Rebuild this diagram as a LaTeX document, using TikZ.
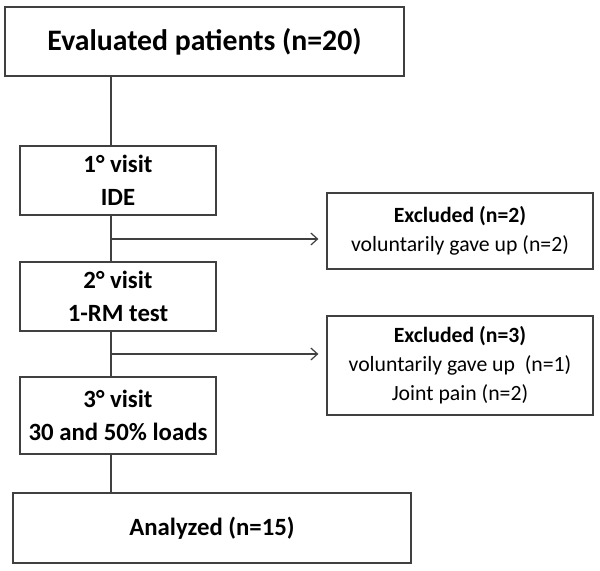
\documentclass[tikz,border=0pt]{standalone}
\usepackage{fontspec}
\setmainfont{Carlito}
\usepackage{tikz}
\usetikzlibrary{positioning}
\usetikzlibrary{calc}
\usetikzlibrary{arrows.meta}

\begin{document}
\begin{tikzpicture}[x=0.75pt,y=0.75pt,yscale=-1,xscale=1,
  flowbox/.style={draw=black!75,line width=0.9pt,rectangle,inner sep=0pt,align=center},
  hugetext/.style={font=\bfseries\fontsize{22.3}{27}\selectfont},
  bigtext/.style={font=\bfseries\fontsize{18.6}{24.75}\selectfont},
  smalltext/.style={font=\fontsize{16.3}{21.75}\selectfont},
  link/.style={draw=black!75,line width=0.9pt}]
  \useasboundingbox (0,0) rectangle (600,571); %picture is 600 by 571
  % Text Node
  \node [flowbox,hugetext,minimum width=299.25pt,minimum height=51.75pt] (evaluated) at (204.5,41.5) {Evaluated patients (n=20)};
  % Text Node
  \node [flowbox,bigtext,minimum width=147pt,minimum height=51.75pt] (visitone) at (118,180.5) {1° visit\\IDE};
  % Text Node
  \node [flowbox,bigtext,minimum width=147pt,minimum height=51.75pt] (visittwo) at (118,296.5) {2° visit\\1-RM test};
  % Text Node
  \node [flowbox,bigtext,minimum width=147pt,minimum height=57.75pt] (visitthree) at (118,415.5) {3° visit\\30 and 50\% loads};
  % Text Node
  \node [flowbox,bigtext,minimum width=298.5pt,minimum height=52.5pt] (analyzed) at (212,528) {Analyzed (n=15)};
  % Text Node
  \node [flowbox,smalltext,minimum width=199.5pt,minimum height=57pt] (exclone) at (460,231) {\textbf{Excluded (n=2)}\\voluntarily gave up (n=2)};
  % Text Node
  \node [flowbox,smalltext,minimum width=199.5pt,minimum height=74.25pt] (excltwo) at (460,365.5) {\textbf{Excluded (n=3)}\\voluntarily gave up \ (n=1)\\Joint pain (n=2)};

  % branch points on the main line
  \coordinate (splitone) at (111,239);
  \coordinate (splittwo) at (111,354);

  %Straight Lines
  \draw [link] (evaluated.south -| splitone) -- (visitone.north -| splitone);
  \draw [link] (visitone.south -| splitone) -- (visittwo.north -| splitone);
  \draw [link] (visittwo.south -| splitone) -- (visitthree.north -| splitone);
  \draw [link] (visitthree.south -| splitone) -- (analyzed.north -| splitone);
  %Arrows
  \draw [link,-{Straight Barb[length=5pt,width=9pt]},shorten >=6pt] (splitone) -- (splitone -| exclone.west);
  \draw [link,-{Straight Barb[length=5pt,width=9pt]},shorten >=6pt] (splittwo) -- (splittwo -| excltwo.west);
\end{tikzpicture}
\end{document}
